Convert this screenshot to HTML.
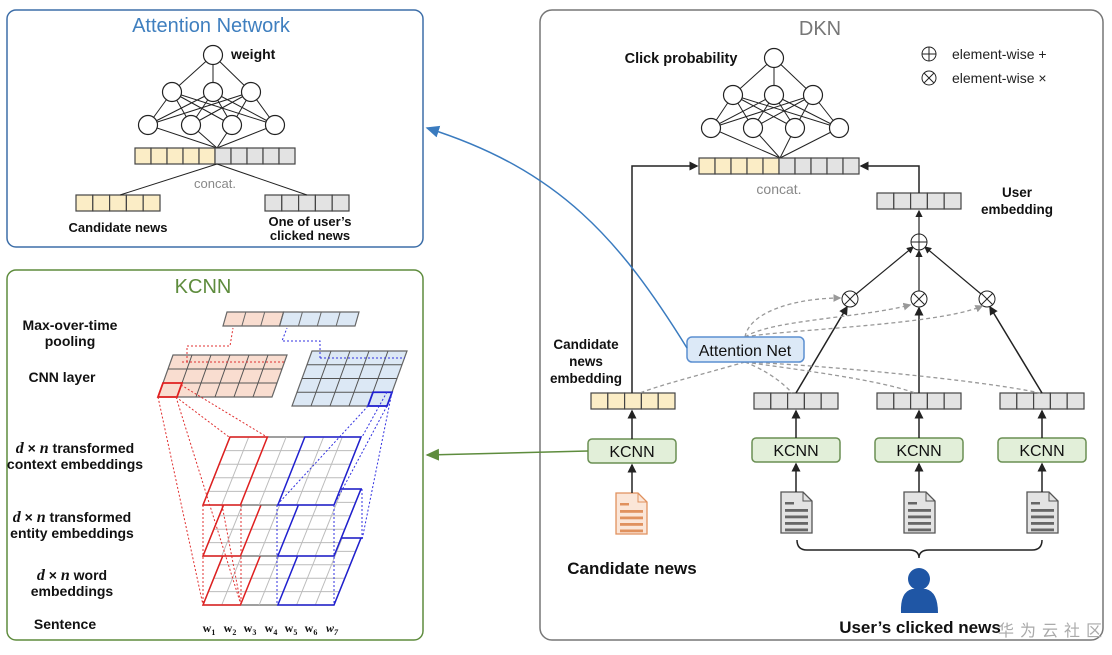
<!DOCTYPE html>
<html><head><meta charset="utf-8"><style>
html,body{margin:0;padding:0;background:#fff;width:1112px;height:655px;overflow:hidden}
svg{display:block;font-family:"Liberation Sans","Noto Sans CJK SC",sans-serif}
.b{font-weight:bold;fill:#111}
.k{font-weight:bold;font-size:14px;fill:#111}
</style></head><body>
<svg id="s" width="1112" height="655" viewBox="0 0 1112 655" xmlns="http://www.w3.org/2000/svg">
<defs>
<marker id="ak" markerWidth="6" markerHeight="6" refX="5" refY="3" orient="auto"><path d="M0,0 L6,3 L0,6z" fill="#222"/></marker>
<marker id="ab" markerWidth="10" markerHeight="10" refX="8" refY="5" orient="auto"><path d="M0,1 L9,5 L0,9z" fill="#3a7bbf"/></marker>
<marker id="ag" markerWidth="10" markerHeight="10" refX="8" refY="5" orient="auto"><path d="M0,1 L9,5 L0,9z" fill="#5e8c3d"/></marker>
<marker id="ad" markerWidth="6" markerHeight="6" refX="5" refY="3" orient="auto"><path d="M0,0 L6,3 L0,6z" fill="#999"/></marker>
</defs>
<rect x="7" y="10" width="416" height="237" rx="9" fill="none" stroke="#3d6ea8" stroke-width="1.5"/>
<text x="211" y="32" text-anchor="middle" font-size="20" fill="#3f7fbf">Attention Network</text>
<rect x="7" y="270" width="416" height="370" rx="9" fill="none" stroke="#5e8c3d" stroke-width="1.5"/>
<text x="203" y="293" text-anchor="middle" font-size="20" fill="#5e8c3d">KCNN</text>
<rect x="540" y="10" width="563" height="630" rx="12" fill="none" stroke="#777" stroke-width="1.5"/>
<text x="820" y="35" text-anchor="middle" font-size="20" fill="#777">DKN</text>
<g id="dyn"></g>

<text x="231" y="59" class="b" font-size="14">weight</text>
<text x="215" y="188" text-anchor="middle" font-size="13" fill="#888">concat.</text>
<line x1="120" y1="195" x2="217" y2="164" stroke="#222"/>
<line x1="307" y1="195" x2="217" y2="164" stroke="#222"/>
<text x="118" y="232" text-anchor="middle" class="b" font-size="13">Candidate news</text>
<text x="310" y="226" text-anchor="middle" class="b" font-size="13">One of user’s</text>
<text x="310" y="240" text-anchor="middle" class="b" font-size="13">clicked news</text>

<text x="70" y="330" text-anchor="middle" class="k">Max-over-time</text>
<text x="70" y="346" text-anchor="middle" class="k">pooling</text>
<text x="62" y="382" text-anchor="middle" class="k">CNN layer</text>
<text x="75" y="453" text-anchor="middle" class="k"><tspan font-family="Liberation Serif" font-style="italic" font-size="16">d</tspan> × <tspan font-family="Liberation Serif" font-style="italic" font-size="16">n</tspan> transformed</text>
<text x="75" y="469" text-anchor="middle" class="k">context embeddings</text>
<text x="72" y="522" text-anchor="middle" class="k"><tspan font-family="Liberation Serif" font-style="italic" font-size="16">d</tspan> × <tspan font-family="Liberation Serif" font-style="italic" font-size="16">n</tspan> transformed</text>
<text x="72" y="538" text-anchor="middle" class="k">entity embeddings</text>
<text x="72" y="580" text-anchor="middle" class="k"><tspan font-family="Liberation Serif" font-style="italic" font-size="16">d</tspan> × <tspan font-family="Liberation Serif" font-style="italic" font-size="16">n</tspan> word</text>
<text x="72" y="596" text-anchor="middle" class="k">embeddings</text>
<text x="65" y="629" text-anchor="middle" class="k">Sentence</text>
<g font-family="Liberation Serif" font-weight="bold" font-size="12" fill="#111" text-anchor="middle">
<text x="209" y="632">w<tspan font-size="8" dy="3">1</tspan></text>
<text x="230" y="632">w<tspan font-size="8" dy="3">2</tspan></text>
<text x="250" y="632">w<tspan font-size="8" dy="3">3</tspan></text>
<text x="271" y="632">w<tspan font-size="8" dy="3">4</tspan></text>
<text x="291" y="632">w<tspan font-size="8" dy="3">5</tspan></text>
<text x="311" y="632">w<tspan font-size="8" dy="3">6</tspan></text>
<text x="332" y="632" font-style="italic">w<tspan font-size="8" dy="3">7</tspan></text>
</g>

<text x="681" y="63" text-anchor="middle" class="b" font-size="14.5">Click probability</text>
<circle cx="929" cy="54" r="7" fill="none" stroke="#222"/><line x1="922" y1="54" x2="936" y2="54" stroke="#222"/><line x1="929" y1="47" x2="929" y2="61" stroke="#222"/>
<circle cx="929" cy="78" r="7" fill="none" stroke="#222"/><line x1="924" y1="73" x2="934" y2="83" stroke="#222"/><line x1="934" y1="73" x2="924" y2="83" stroke="#222"/>
<text x="952" y="59" font-size="14" fill="#222">element-wise +</text>
<text x="952" y="83" font-size="14" fill="#222">element-wise ×</text>
<text x="779" y="194" text-anchor="middle" font-size="14" fill="#888">concat.</text>
<text x="1017" y="197" text-anchor="middle" class="b" font-size="13.5">User</text>
<text x="1017" y="214" text-anchor="middle" class="b" font-size="13.5">embedding</text>
<text x="586" y="349" text-anchor="middle" class="b" font-size="13.5">Candidate</text>
<text x="586" y="366" text-anchor="middle" class="b" font-size="13.5">news</text>
<text x="586" y="383" text-anchor="middle" class="b" font-size="13.5">embedding</text>
<text x="632" y="574" text-anchor="middle" class="b" font-size="17">Candidate news</text>
<text x="920" y="633" text-anchor="middle" class="b" font-size="17">User’s clicked news</text>
<text x="998" y="636" font-size="16" fill="#aaa" letter-spacing="6">华为云社区</text>

<polyline points="632,393 632,166 697,166" fill="none" stroke="#222" stroke-width="1.5" marker-end="url(#ak)"/>
<polyline points="919,193 919,166 861,166" fill="none" stroke="#222" stroke-width="1.5" marker-end="url(#ak)"/>
<line x1="919" y1="234" x2="919" y2="211" stroke="#222" stroke-width="1.2" marker-end="url(#ak)"/>
<line x1="850" y1="299" x2="913" y2="247" stroke="#222" stroke-width="1.2" marker-end="url(#ak)"/>
<line x1="919" y1="291" x2="919" y2="251" stroke="#222" stroke-width="1.2" marker-end="url(#ak)"/>
<line x1="987" y1="299" x2="925" y2="247" stroke="#222" stroke-width="1.2" marker-end="url(#ak)"/>
<line x1="796" y1="393" x2="847" y2="307" stroke="#222" stroke-width="1.5" marker-end="url(#ak)"/>
<line x1="919" y1="393" x2="919" y2="308" stroke="#222" stroke-width="1.5" marker-end="url(#ak)"/>
<line x1="1042" y1="393" x2="990" y2="307" stroke="#222" stroke-width="1.5" marker-end="url(#ak)"/>
<circle cx="919" cy="242" r="8" fill="#fff" stroke="#222"/><line x1="911" y1="242" x2="927" y2="242" stroke="#222"/><line x1="919" y1="234" x2="919" y2="250" stroke="#222"/>
<g stroke="#222" fill="#fff">
<circle cx="850" cy="299" r="8"/><circle cx="919" cy="299" r="8"/><circle cx="987" cy="299" r="8"/>
</g>
<g stroke="#222"><path d="M844,293 L856,305 M856,293 L844,305 M913,293 L925,305 M925,293 L913,305 M981,293 L993,305 M993,293 L981,305"/></g>

<g fill="none" stroke="#999" stroke-width="1.3" stroke-dasharray="4,3">
<path d="M745,337 C750,310 800,298 840,298" marker-end="url(#ad)"/>
<path d="M745,337 C770,320 860,318 910,305" marker-end="url(#ad)"/>
<path d="M745,337 C780,330 940,325 982,306" marker-end="url(#ad)"/>
<path d="M745,362 C700,375 660,385 640,393"/>
<path d="M745,362 C770,372 785,385 792,393"/>
<path d="M745,362 C800,370 880,380 915,393"/>
<path d="M745,362 C820,365 980,380 1040,393"/>
</g>
<rect x="687" y="337" width="117" height="25" rx="5" fill="#dce9f7" stroke="#5b8fd1" stroke-width="1.5"/>
<text x="745" y="356" text-anchor="middle" font-size="16" fill="#111">Attention Net</text>

<g fill="#e2efd9" stroke="#6a8f53" stroke-width="1.5">
<rect x="588" y="439" width="88" height="24" rx="4"/>
<rect x="752" y="438" width="88" height="24" rx="4"/>
<rect x="875" y="438" width="88" height="24" rx="4"/>
<rect x="998" y="438" width="88" height="24" rx="4"/>
</g>
<g font-size="16" text-anchor="middle" fill="#111">
<text x="632" y="457">KCNN</text><text x="796" y="456">KCNN</text><text x="919" y="456">KCNN</text><text x="1042" y="456">KCNN</text>
</g>
<g stroke="#222" stroke-width="1.5" marker-end="url(#ak)">
<line x1="632" y1="439" x2="632" y2="411"/><line x1="796" y1="438" x2="796" y2="411"/><line x1="919" y1="438" x2="919" y2="411"/><line x1="1042" y1="438" x2="1042" y2="411"/>
<line x1="632" y1="493" x2="632" y2="465"/><line x1="796" y1="492" x2="796" y2="464"/><line x1="919" y1="492" x2="919" y2="464"/><line x1="1042" y1="492" x2="1042" y2="464"/>
</g>
<path d="M797,540 Q797,550 807,550 L909,550 Q919,550 919,558 Q919,550 929,550 L1032,550 Q1042,550 1042,540" fill="none" stroke="#222" stroke-width="1.5"/>
<circle cx="919" cy="579" r="11" fill="#1f56a5"/>
<path d="M901,613 Q900,592 912,589 L926,589 Q938,592 938,613 Z" fill="#1f56a5"/>

<path d="M687,348 C620,240 560,170 427,128" fill="none" stroke="#3a7bbf" stroke-width="1.5" marker-end="url(#ab)"/>
<line x1="588" y1="451" x2="427" y2="455" stroke="#5e8c3d" stroke-width="1.5" marker-end="url(#ag)"/>
</svg>
<script>
var g=document.getElementById('dyn'),h='';
function bar(x,y,n,yel,cw,hh){cw=cw||16.8;hh=hh||16;for(var i=0;i<n;i++){var f=(typeof yel==='number')?(i<yel?'#fbedc6':'#e3e3e3'):(yel?'#fbedc6':'#e3e3e3');h+='<rect x="'+(x+i*cw)+'" y="'+y+'" width="'+cw+'" height="'+hh+'" fill="'+f+'" stroke="#444" stroke-width="1.2"/>';}}
function nn(cx,top,l2,l3,by,bx){var L2=l2.map(function(x){return[x,top+37]}),L3=l3.map(function(x){return[x,top+70]});
 L2.forEach(function(p){h+='<line x1="'+cx+'" y1="'+top+'" x2="'+p[0]+'" y2="'+p[1]+'" stroke="#222"/>';L3.forEach(function(q){h+='<line x1="'+p[0]+'" y1="'+p[1]+'" x2="'+q[0]+'" y2="'+q[1]+'" stroke="#222"/>';});});
 L3.forEach(function(q){h+='<line x1="'+q[0]+'" y1="'+q[1]+'" x2="'+bx+'" y2="'+by+'" stroke="#222"/>';});
 [[cx,top]].concat(L2,L3).forEach(function(p){h+='<circle cx="'+p[0]+'" cy="'+p[1]+'" r="9.5" fill="#fff" stroke="#222" stroke-width="1.2"/>';});}
nn(213,55,[172,213,251],[148,191,232,275],148,217);
bar(135,148,10,5,16);bar(76,195,5,true);bar(265,195,5,false);
nn(774,58,[733,774,813],[711,753,795,839],158,780);
bar(699,158,10,5,16);bar(877,193,5,false);
bar(591,393,5,true);bar(754,393,5,false);bar(877,393,5,false);bar(1000,393,5,false);
function doc(x,y,c,f,l){h+='<path d="M'+x+','+y+' L'+(x+22)+','+y+' L'+(x+31)+','+(y+9)+' L'+(x+31)+','+(y+41)+' L'+x+','+(y+41)+' Z" fill="'+f+'" stroke="'+c+'" stroke-width="1.3"/><path d="M'+(x+22)+','+y+' L'+(x+22)+','+(y+9)+' L'+(x+31)+','+(y+9)+'" fill="none" stroke="'+c+'"/>';
 h+='<rect x="'+(x+4)+'" y="'+(y+10)+'" width="9" height="2.5" fill="'+l+'"/>';for(var i=0;i<4;i++)h+='<rect x="'+(x+4)+'" y="'+(y+17+i*6.5)+'" width="23" height="2.8" fill="'+l+'"/>';}
doc(616,493,'#e0915e','#fbe6d8','#e0915e');doc(781,492,'#555','#e3e3e3','#666');doc(904,492,'#555','#e3e3e3','#666');doc(1027,492,'#555','#e3e3e3','#666');
function P(L,u,v){return [L.bl+u*L.w+v*L.s, L.b-v*(L.b-L.t)];}
function poly(L,u0,u1,v0,v1,f,st,sw){var a=P(L,u0,v0),b=P(L,u1,v0),c=P(L,u1,v1),d=P(L,u0,v1);h+='<polygon points="'+[a,b,c,d].map(function(p){return p.join(',')}).join(' ')+'" fill="'+f+'" stroke="'+st+'" stroke-width="'+(sw||1)+'"/>';}
function grid(L,c){for(var i=1;i<L.cols;i++){var a=P(L,i/L.cols,0),b=P(L,i/L.cols,1);h+='<line x1="'+a[0]+'" y1="'+a[1]+'" x2="'+b[0]+'" y2="'+b[1]+'" stroke="'+c+'"/>';}
 for(var j=1;j<L.rows;j++){var a=P(L,0,j/L.rows),b=P(L,1,j/L.rows);h+='<line x1="'+a[0]+'" y1="'+a[1]+'" x2="'+b[0]+'" y2="'+b[1]+'" stroke="'+c+'"/>';}}
function emb(t,b){var L={bl:203,w:131,s:27,t:t,b:b,cols:7,rows:5};poly(L,0,1,0,1,'#fff','#666',1.2);grid(L,'#bbb');poly(L,0,2/7,0,1,'none','#e02020',1.5);poly(L,4/7,1,0,1,'none','#2020d0',1.5);return L;}
emb(538,605);emb(489,556);emb(437,505);
var R={bl:158,w:114,s:15,t:355,b:397,cols:6,rows:3};poly(R,0,1,0,1,'#f9ddd0','#666',1.2);grid(R,'#555');poly(R,0,1/6,0,1/3,'none','#e02020',1.8);
var B={bl:292,w:95,s:20,t:351,b:406,cols:5,rows:4};poly(B,0,1,0,1,'#dce8f5','#666',1.2);grid(B,'#555');poly(B,4/5,1,0,1/4,'none','#2020d0',1.8);
var M={bl:223,w:132,s:4,t:312,b:326,cols:7,rows:1};poly(M,0,3/7,0,1,'#f9ddd0','#666',1.2);poly(M,3/7,1,0,1,'#dce8f5','#666',1.2);grid(M,'#666');
function dl(pts,c){h+='<polyline points="'+pts+'" fill="none" stroke="'+c+'" stroke-width="1" stroke-dasharray="2,2"/>';}
var r='#e03030',bl='#3030e0';
dl('158,397 203,605',r);dl('176,397 241,605',r);dl('181,385 267,437',r);dl('176,397 229,437',r);
dl('203,505 203,605',r);dl('241,505 241,605',r);dl('222,505 241,605',r);
dl('182,362 285,362',r);dl('187,362 187,346 230,346 233,328',r);
dl('387,392 362,437',bl);dl('368,406 277,505',bl);dl('392,392 362,540',bl);dl('387,406 334,505',bl);
dl('277,505 277,605',bl);dl('334,505 334,605',bl);dl('362,489 362,540',bl);
dl('320,358 405,358',bl);dl('320,358 320,341 282,341 287,328',bl);
g.innerHTML=h;
</script>
</body></html>
